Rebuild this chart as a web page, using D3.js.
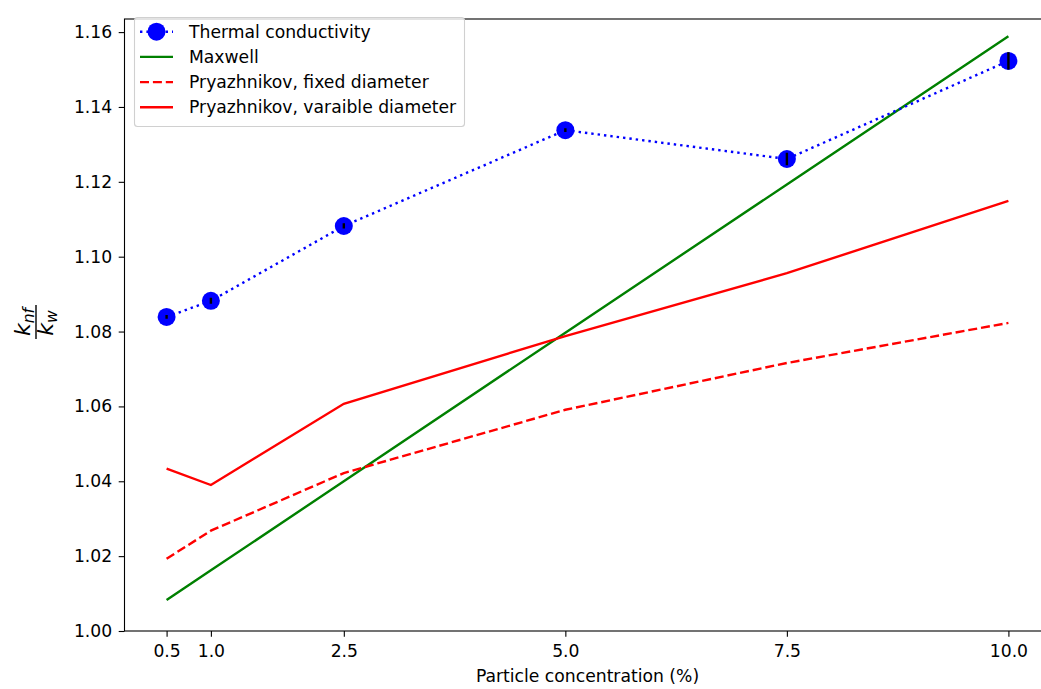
<!DOCTYPE html>
<html>
<head>
<meta charset="utf-8">
<script src="https://cdn.jsdelivr.net/npm/d3@7"></script>
<style>
  html, body { margin: 0; padding: 0; background: #fff; }
  svg { display: block; font-family: "DejaVu Sans", sans-serif; }
</style>
</head>
<body>
<svg id="chart" width="1041" height="689"></svg>
<script>
// Particle concentration (%)
const concentration = [0.5, 1.0, 2.5, 5.0, 7.5, 10.0];
// Measured relative thermal conductivity and its error
const measured = [1.0839, 1.0882, 1.1082, 1.1338, 1.1261, 1.1523];
const measuredErr = [0.0005, 0.0008, 0.0007, 0.0005, 0.0017, 0.0023];
// Model predictions
const maxwell = [1.0083, 1.0162, 1.0400, 1.0797, 1.1193, 1.1589];
const pryFixed = [1.0193, 1.0268, 1.0422, 1.0591, 1.0716, 1.0823];
const pryVariable = [1.0434, 1.0390, 1.0607, 1.0788, 1.0956, 1.1149];

const xTicks = [0.5, 1.0, 2.5, 5.0, 7.5, 10.0];
const yTicks = [1.00, 1.02, 1.04, 1.06, 1.08, 1.10, 1.12, 1.14, 1.16];

const FONT = 17.2;
const LW = 2.4;

const svg = d3.select("#chart");
const plotLeft = 124.5, plotRight = 1050.5, plotTop = 19, plotBottom = 631;

const x = d3.scaleLinear().domain([0.025, 10.475]).range([plotLeft, plotRight]);
const y = d3.scaleLinear().domain([1.0, 1.1635]).range([plotBottom, plotTop]);

svg.append("defs").append("clipPath").attr("id", "plot-clip")
  .append("rect").attr("x", plotLeft).attr("y", plotTop)
  .attr("width", plotRight - plotLeft).attr("height", plotBottom - plotTop);

const plot = svg.append("g").attr("clip-path", "url(#plot-clip)");

const line = vals => d3.line()
  .x((d, i) => x(concentration[i]))
  .y(d => y(d))(vals);

const DOTTED = "2.4,4";
const DASHED = "9,3.9";

// Maxwell model
plot.append("path").attr("d", line(maxwell))
  .attr("fill", "none").attr("stroke", "green").attr("stroke-width", LW);
// Pryazhnikov, fixed diameter
plot.append("path").attr("d", line(pryFixed))
  .attr("fill", "none").attr("stroke", "red").attr("stroke-width", LW)
  .attr("stroke-dasharray", DASHED);
// Pryazhnikov, variable diameter
plot.append("path").attr("d", line(pryVariable))
  .attr("fill", "none").attr("stroke", "red").attr("stroke-width", LW);

// Measured data: dotted connector, markers, error bars
plot.append("path").attr("d", line(measured))
  .attr("fill", "none").attr("stroke", "blue").attr("stroke-width", LW)
  .attr("stroke-dasharray", DOTTED);
plot.selectAll("circle.pt").data(measured).join("circle")
  .attr("class", "pt")
  .attr("cx", (d, i) => x(concentration[i]))
  .attr("cy", d => y(d))
  .attr("r", 9)
  .attr("fill", "blue");
plot.selectAll("line.err").data(measured).join("line")
  .attr("class", "err")
  .attr("x1", (d, i) => x(concentration[i]))
  .attr("x2", (d, i) => x(concentration[i]))
  .attr("y1", (d, i) => y(d - measuredErr[i]))
  .attr("y2", (d, i) => y(d + measuredErr[i]))
  .attr("stroke", "black").attr("stroke-width", LW);

// Axes
const xAxis = d3.axisBottom(x).tickValues(xTicks).tickFormat(d3.format(".1f"))
  .tickSizeOuter(0).tickSizeInner(5.8).tickPadding(7.5);
const yAxis = d3.axisLeft(y).tickValues(yTicks).tickFormat(d3.format(".2f"))
  .tickSizeOuter(0).tickSizeInner(5.8).tickPadding(6.5);

const gx = svg.append("g").attr("transform", `translate(0,${plotBottom})`).call(xAxis);
const gy = svg.append("g").attr("transform", `translate(${plotLeft},0)`).call(yAxis);
[gx, gy].forEach(g => {
  g.select(".domain").remove();
  g.selectAll("text").attr("font-size", FONT).attr("fill", "#000")
    .attr("font-family", "DejaVu Sans, sans-serif");
  g.selectAll("line").attr("stroke", "#000").attr("stroke-width", 1.1);
});

// Frame
svg.append("rect").attr("x", plotLeft).attr("y", plotTop)
  .attr("width", plotRight - plotLeft).attr("height", plotBottom - plotTop)
  .attr("fill", "none").attr("stroke", "#000").attr("stroke-width", 1.1);

// X label
svg.append("text").attr("x", (plotLeft + plotRight) / 2).attr("y", 682)
  .attr("text-anchor", "middle").attr("font-size", FONT)
  .text("Particle concentration (%)");

// Y label: k_nf / k_w as a fraction
const yl = svg.append("g").attr("transform", "translate(36,322) rotate(-90)");
const num = yl.append("text").attr("x", 0).attr("y", -6).attr("text-anchor", "middle")
  .attr("font-style", "italic").attr("font-size", 22);
num.append("tspan").text("k");
num.append("tspan").attr("font-size", 15.5).attr("dy", 4).text("nf");
yl.append("line").attr("x1", -17).attr("x2", 17).attr("y1", 0).attr("y2", 0)
  .attr("stroke", "#000").attr("stroke-width", 1.4);
const den = yl.append("text").attr("x", -1).attr("y", 17).attr("text-anchor", "middle")
  .attr("font-style", "italic").attr("font-size", 22);
den.append("tspan").text("k");
den.append("tspan").attr("font-size", 15.5).attr("dy", 4).text("w");

// Legend
const legend = svg.append("g");
legend.append("rect").attr("x", 134.5).attr("y", 17.5).attr("width", 330).attr("height", 109)
  .attr("rx", 3).attr("fill", "#fff").attr("fill-opacity", 0.8)
  .attr("stroke", "#d0d0d0").attr("stroke-width", 1.1);

const legendItems = [
  { label: "Thermal conductivity", color: "blue", dash: DOTTED, marker: true },
  { label: "Maxwell", color: "green", dash: null },
  { label: "Pryazhnikov, fixed diameter", color: "red", dash: DASHED },
  { label: "Pryazhnikov, varaible diameter", color: "red", dash: null }
];
legendItems.forEach((it, i) => {
  const cy = 31.7 + i * 25.2;
  legend.append("line").attr("x1", 140).attr("x2", 173).attr("y1", cy).attr("y2", cy)
    .attr("stroke", it.color).attr("stroke-width", LW)
    .attr("stroke-dasharray", it.dash);
  if (it.marker) {
    legend.append("circle").attr("cx", 156.5).attr("cy", cy).attr("r", 9).attr("fill", "blue");
  }
  legend.append("text").attr("x", 189).attr("y", cy + 6).attr("font-size", FONT)
    .attr("fill", "#000").text(it.label);
});
</script>
</body>
</html>
